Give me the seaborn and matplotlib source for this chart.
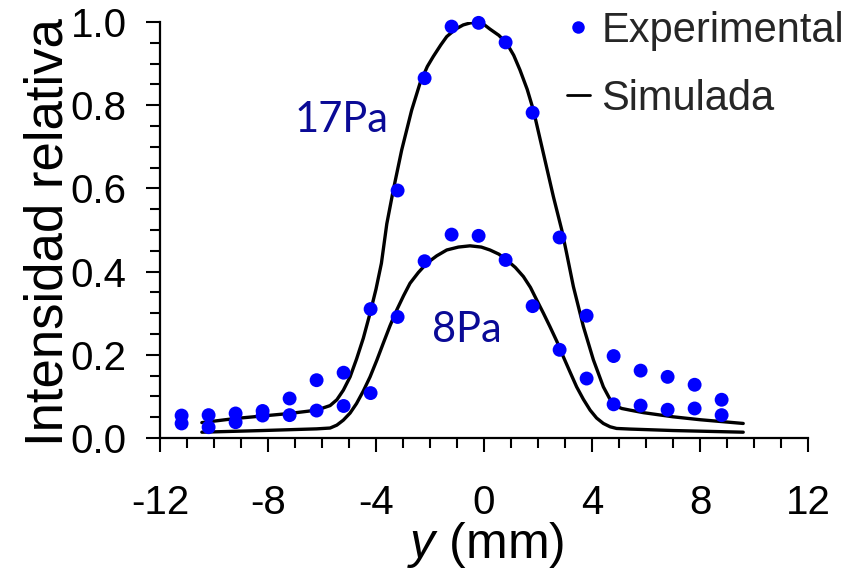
import matplotlib
matplotlib.use("Agg")
import matplotlib.pyplot as plt
from matplotlib.lines import Line2D
from matplotlib.ticker import MultipleLocator, FormatStrFormatter
import pandas as pd
import seaborn as sns

# Measurement positions along y (mm)
y_pos = [-11.2, -10.2, -9.2, -8.2, -7.2, -6.2, -5.2, -4.2, -3.2, -2.2, -1.2,
         -0.2, 0.8, 1.8, 2.8, 3.8, 4.8, 5.8, 6.8, 7.8, 8.8]

# Measured relative intensity
exp_17pa = [0.054, 0.055, 0.059, 0.065, 0.095, 0.139, 0.157, 0.310, 0.595,
            0.865, 0.989, 0.998, 0.951, 0.782, 0.482, 0.294, 0.197, 0.162,
            0.147, 0.128, 0.092]
exp_8pa = [0.035, 0.026, 0.038, 0.054, 0.055, 0.066, 0.077, 0.108, 0.291,
           0.425, 0.489, 0.486, 0.428, 0.317, 0.212, 0.143, 0.081, 0.078,
           0.068, 0.071, 0.055]

# Simulated profiles
sim_17pa_y = [-10.45, -9.2, -8.2, -7.2, -6.2, -5.7, -5.45, -5.21, -4.96, -4.72,
              -4.47, -4.22, -4.0, -3.8, -3.6, -3.36, -3.05, -2.68, -2.37, -2.1,
              -1.88, -1.6, -1.38, -1.05, -0.77, -0.5, -0.27, 0.0, 0.22, 0.55,
              0.84, 1.1, 1.33, 1.6, 1.83, 2.2, 2.57, 2.88, 3.06, 3.31, 3.68,
              4.05, 4.42, 4.65, 4.85, 5.1, 5.41, 5.9, 7.0, 8.0, 9.6]
sim_17pa_i = [0.037, 0.047, 0.053, 0.059, 0.067, 0.078, 0.092, 0.115, 0.147, 0.190,
              0.240, 0.300, 0.358, 0.420, 0.515, 0.596, 0.692, 0.788, 0.853, 0.893,
              0.917, 0.945, 0.965, 0.983, 0.993, 0.998, 0.999, 0.994, 0.983, 0.968,
              0.949, 0.920, 0.885, 0.838, 0.788, 0.684, 0.580, 0.500, 0.444, 0.364, 0.268,
              0.188, 0.123, 0.095, 0.078, 0.071, 0.067, 0.061, 0.051, 0.044, 0.035]

sim_8pa_y = [-10.45, -8.2, -6.2, -5.7, -5.45, -5.21, -4.96, -4.72, -4.47, -4.22,
             -3.97, -3.73, -3.48, -3.23, -2.98, -2.74, -2.43, -2.12, -1.75, -1.38,
             -0.95, -0.52, -0.1, 0.22, 0.55, 0.84, 1.16, 1.46, 1.72, 1.95, 2.2,
             2.44, 2.7, 2.94, 3.19, 3.43, 3.68, 3.93, 4.17, 4.42, 4.67, 4.91,
             5.41, 7.0, 9.6]
sim_8pa_i = [0.014, 0.018, 0.022, 0.024, 0.031, 0.043, 0.060, 0.083, 0.113, 0.147,
             0.187, 0.228, 0.270, 0.308, 0.342, 0.372, 0.398, 0.420, 0.438, 0.452,
             0.459, 0.462, 0.459, 0.452, 0.442, 0.428, 0.410, 0.388, 0.362, 0.332, 0.300,
             0.268, 0.232, 0.195, 0.158, 0.123, 0.093, 0.067, 0.048, 0.035, 0.027, 0.023,
             0.0215, 0.018, 0.014]

x_ticks = [-12, -8, -4, 0, 4, 8, 12]
y_ticks = [0.0, 0.2, 0.4, 0.6, 0.8, 1.0]

exp_df = pd.concat([
    pd.DataFrame({"y": y_pos, "I": exp_17pa, "p": "17Pa"}),
    pd.DataFrame({"y": y_pos, "I": exp_8pa, "p": "8Pa"}),
], ignore_index=True)
sim_df = pd.concat([
    pd.DataFrame({"y": sim_17pa_y, "I": sim_17pa_i, "p": "17Pa"}),
    pd.DataFrame({"y": sim_8pa_y, "I": sim_8pa_i, "p": "8Pa"}),
], ignore_index=True)

sns.set_theme(style="ticks")
plt.rcParams["font.family"] = ["Liberation Sans", "DejaVu Sans"]
plt.rcParams["mathtext.fontset"] = "custom"
plt.rcParams["mathtext.it"] = "Liberation Sans:italic"
plt.rcParams["mathtext.rm"] = "Liberation Sans"
plt.rcParams["axes.unicode_minus"] = False

fig = plt.figure(figsize=(8.63, 5.69), dpi=100)
ax = fig.add_axes([0.1854, 0.2302, 0.7509, 0.7311])

sns.lineplot(data=sim_df, x="y", y="I", units="p", estimator=None, sort=False,
             color="black", linewidth=2.4, legend=False, ax=ax, zorder=2)
sns.scatterplot(data=exp_df, x="y", y="I", color="#0000ff", s=100,
                edgecolor="none", legend=False, ax=ax, zorder=3, clip_on=False)

ax.set_xlim(-12, 12)
ax.set_ylim(0, 1.0)
ax.set_xticks(x_ticks)
ax.set_yticks(y_ticks)
ax.xaxis.set_minor_locator(MultipleLocator(1))
ax.yaxis.set_minor_locator(MultipleLocator(0.05))
ax.yaxis.set_major_formatter(FormatStrFormatter("%.1f"))

for side in ("top", "right"):
    ax.spines[side].set_visible(False)
for side in ("left", "bottom"):
    ax.spines[side].set_linewidth(1.6)
    ax.spines[side].set_color("black")

ax.tick_params(axis="both", which="major", direction="out", length=10,
               width=1.5, color="black", labelsize=29, labelcolor="black")
ax.tick_params(axis="both", which="minor", direction="out", length=7.5,
               width=1.5, color="black")
ax.tick_params(axis="x", which="major", pad=23)
ax.tick_params(axis="y", which="major", pad=14)

ax.set_xlabel(r"$\mathit{y}$ (mm)", fontsize=36, color="black")
ax.set_ylabel("Intensidad relativa", fontsize=38, color="black")
ax.xaxis.set_label_coords(0.503, -0.197)
ax.yaxis.set_label_coords(-0.134, 0.496)

ax.text(-5.26, 0.736, "17Pa", fontsize=30, family="Lato", color="#0a0a96",
        ha="center", va="baseline")
ax.text(-0.63, 0.2315, "8Pa", fontsize=30, family="Lato", color="#0a0a96",
        ha="center", va="baseline")

handles = [
    Line2D([], [], linestyle="none", marker="o", markersize=9,
           markerfacecolor="#0000ff", markeredgecolor="none"),
    Line2D([], [], color="black", linewidth=2.0),
]
ax.legend(handles, ["Experimental", "Simulada"], loc="upper left",
          bbox_to_anchor=(567 / 863, 1 - 11 / 569), bbox_transform=fig.transFigure,
          frameon=False, fontsize=30, handlelength=0.55, handletextpad=0.28,
          labelspacing=0.66, borderpad=0, borderaxespad=0)

fig.savefig("out.png", dpi=100)
